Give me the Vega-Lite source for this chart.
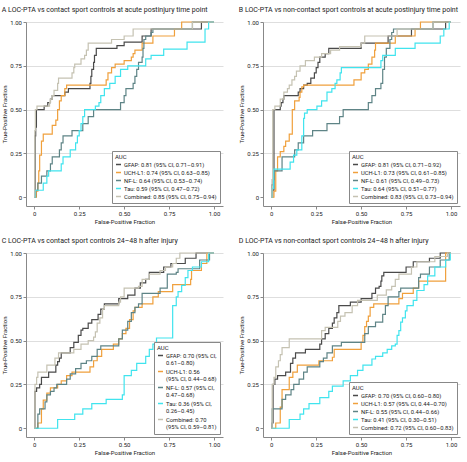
{
  "$schema": "https://vega.github.io/schema/vega-lite/v6.json",
  "padding": {"left": 1, "top": 6, "right": 3, "bottom": 0},
  "background": "white",
  "config": {
    "font": "Roboto",
    "view": {"stroke": null},
    "title": {"fontSize": 7, "fontWeight": "normal", "anchor": "start", "color": "#222", "offset": 6},
    "axis": {"labelFontSize": 6, "titleFontSize": 6, "titleFontWeight": "normal", "labelColor": "#222", "titleColor": "#222", "domainColor": "#888", "tickColor": "#888", "tickSize": 3, "labelPadding": 1.5, "titlePadding": 2, "gridColor": "#dedede"},
    "legend": {"orient": "bottom-right", "offset": 3, "strokeColor": "#888", "padding": 3, "titleFontSize": 6, "titleFontWeight": "normal", "titleColor": "#222", "labelFontSize": 5.8, "labelColor": "#222", "symbolType": "stroke", "symbolStrokeWidth": 1.5, "symbolSize": 25, "rowPadding": 1, "titlePadding": 1, "labelOffset": 2, "fillColor": "white", "labelLimit": 0, "cornerRadius": 0}
  },
  "datasets": {
    "labA": [
      {"s": "GFAP", "o": 1, "auc": "GFAP: 0.81 (95% CI, 0.71–0.91)"},
      {"s": "UCH-L1", "o": 2, "auc": "UCH-L1: 0.74 (95% CI, 0.63–0.85)"},
      {"s": "NF-L", "o": 3, "auc": "NF-L: 0.64 (95% CI, 0.53–0.74)"},
      {"s": "Tau", "o": 4, "auc": "Tau: 0.59 (95% CI, 0.47–0.72)"},
      {"s": "Combined", "o": 5, "auc": "Combined: 0.85 (95% CI, 0.75–0.94)"}
    ],
    "labB": [
      {"s": "GFAP", "o": 1, "auc": "GFAP: 0.81 (95% CI, 0.71–0.92)"},
      {"s": "UCH-L1", "o": 2, "auc": "UCH-L1: 0.73 (95% CI, 0.61–0.85)"},
      {"s": "NF-L", "o": 3, "auc": "NF-L: 0.61 (95% CI, 0.49–0.73)"},
      {"s": "Tau", "o": 4, "auc": "Tau: 0.64 (95% CI, 0.51–0.77)"},
      {"s": "Combined", "o": 5, "auc": "Combined: 0.83 (95% CI, 0.73–0.94)"}
    ],
    "labC": [
      {"s": "GFAP", "o": 1, "auc": "GFAP: 0.70 (95% CI,|0.61–0.80)"},
      {"s": "UCH-L1", "o": 2, "auc": "UCH-L1: 0.56|(95% CI, 0.44–0.68)"},
      {"s": "NF-L", "o": 3, "auc": "NF-L: 0.57 (95% CI,|0.47–0.68)"},
      {"s": "Tau", "o": 4, "auc": "Tau: 0.36 (95% CI,|0.26–0.45)"},
      {"s": "Combined", "o": 5, "auc": "Combined: 0.70|(95% CI, 0.59–0.81)"}
    ],
    "labD": [
      {"s": "GFAP", "o": 1, "auc": "GFAP: 0.70 (95% CI, 0.60–0.80)"},
      {"s": "UCH-L1", "o": 2, "auc": "UCH-L1: 0.57 (95% CI, 0.44–0.70)"},
      {"s": "NF-L", "o": 3, "auc": "NF-L: 0.55 (95% CI, 0.44–0.66)"},
      {"s": "Tau", "o": 4, "auc": "Tau: 0.41 (95% CI, 0.30–0.51)"},
      {"s": "Combined", "o": 5, "auc": "Combined: 0.72 (95% CI, 0.60–0.83)"}
    ],
    "curves": [
      {"p":"A","s":"GFAP","x":0,"y":0},{"p":"A","s":"GFAP","x":0.005,"y":0.35},{"p":"A","s":"GFAP","x":0.008,"y":0.4},{"p":"A","s":"GFAP","x":0.012,"y":0.5},{"p":"A","s":"GFAP","x":0.055,"y":0.52},{"p":"A","s":"GFAP","x":0.075,"y":0.54},{"p":"A","s":"GFAP","x":0.09,"y":0.56},{"p":"A","s":"GFAP","x":0.1,"y":0.58},{"p":"A","s":"GFAP","x":0.17,"y":0.6},{"p":"A","s":"GFAP","x":0.19,"y":0.62},{"p":"A","s":"GFAP","x":0.31,"y":0.65},{"p":"A","s":"GFAP","x":0.315,"y":0.69},{"p":"A","s":"GFAP","x":0.32,"y":0.73},{"p":"A","s":"GFAP","x":0.33,"y":0.77},{"p":"A","s":"GFAP","x":0.335,"y":0.81},{"p":"A","s":"GFAP","x":0.345,"y":0.85},{"p":"A","s":"GFAP","x":0.46,"y":0.865},{"p":"A","s":"GFAP","x":0.5,"y":0.885},{"p":"A","s":"GFAP","x":0.6,"y":0.92},{"p":"A","s":"GFAP","x":0.65,"y":0.96},{"p":"A","s":"GFAP","x":0.93,"y":1},{"p":"A","s":"GFAP","x":1,"y":1},
      {"p":"A","s":"UCH-L1","x":0,"y":0},{"p":"A","s":"UCH-L1","x":0.012,"y":0.035},{"p":"A","s":"UCH-L1","x":0.02,"y":0.08},{"p":"A","s":"UCH-L1","x":0.025,"y":0.15},{"p":"A","s":"UCH-L1","x":0.03,"y":0.24},{"p":"A","s":"UCH-L1","x":0.04,"y":0.32},{"p":"A","s":"UCH-L1","x":0.05,"y":0.36},{"p":"A","s":"UCH-L1","x":0.1,"y":0.41},{"p":"A","s":"UCH-L1","x":0.12,"y":0.44},{"p":"A","s":"UCH-L1","x":0.13,"y":0.5},{"p":"A","s":"UCH-L1","x":0.14,"y":0.55},{"p":"A","s":"UCH-L1","x":0.15,"y":0.58},{"p":"A","s":"UCH-L1","x":0.17,"y":0.62},{"p":"A","s":"UCH-L1","x":0.18,"y":0.64},{"p":"A","s":"UCH-L1","x":0.4,"y":0.67},{"p":"A","s":"UCH-L1","x":0.41,"y":0.71},{"p":"A","s":"UCH-L1","x":0.43,"y":0.74},{"p":"A","s":"UCH-L1","x":0.45,"y":0.76},{"p":"A","s":"UCH-L1","x":0.5,"y":0.78},{"p":"A","s":"UCH-L1","x":0.54,"y":0.8},{"p":"A","s":"UCH-L1","x":0.55,"y":0.82},{"p":"A","s":"UCH-L1","x":0.56,"y":0.84},{"p":"A","s":"UCH-L1","x":0.6,"y":0.88},{"p":"A","s":"UCH-L1","x":0.66,"y":0.92},{"p":"A","s":"UCH-L1","x":0.78,"y":0.96},{"p":"A","s":"UCH-L1","x":0.82,"y":1},{"p":"A","s":"UCH-L1","x":1,"y":1},
      {"p":"A","s":"NF-L","x":0,"y":0},{"p":"A","s":"NF-L","x":0.008,"y":0.04},{"p":"A","s":"NF-L","x":0.02,"y":0.08},{"p":"A","s":"NF-L","x":0.04,"y":0.12},{"p":"A","s":"NF-L","x":0.07,"y":0.15},{"p":"A","s":"NF-L","x":0.09,"y":0.19},{"p":"A","s":"NF-L","x":0.1,"y":0.23},{"p":"A","s":"NF-L","x":0.14,"y":0.27},{"p":"A","s":"NF-L","x":0.15,"y":0.31},{"p":"A","s":"NF-L","x":0.16,"y":0.35},{"p":"A","s":"NF-L","x":0.21,"y":0.38},{"p":"A","s":"NF-L","x":0.27,"y":0.42},{"p":"A","s":"NF-L","x":0.3,"y":0.46},{"p":"A","s":"NF-L","x":0.33,"y":0.5},{"p":"A","s":"NF-L","x":0.48,"y":0.54},{"p":"A","s":"NF-L","x":0.5,"y":0.58},{"p":"A","s":"NF-L","x":0.51,"y":0.62},{"p":"A","s":"NF-L","x":0.55,"y":0.65},{"p":"A","s":"NF-L","x":0.56,"y":0.69},{"p":"A","s":"NF-L","x":0.57,"y":0.73},{"p":"A","s":"NF-L","x":0.58,"y":0.77},{"p":"A","s":"NF-L","x":0.6,"y":0.8},{"p":"A","s":"NF-L","x":0.605,"y":0.85},{"p":"A","s":"NF-L","x":0.61,"y":0.9},{"p":"A","s":"NF-L","x":0.62,"y":0.92},{"p":"A","s":"NF-L","x":0.65,"y":0.94},{"p":"A","s":"NF-L","x":0.66,"y":0.96},{"p":"A","s":"NF-L","x":0.88,"y":1},{"p":"A","s":"NF-L","x":1,"y":1},
      {"p":"A","s":"Tau","x":0,"y":0},{"p":"A","s":"Tau","x":0.005,"y":0.04},{"p":"A","s":"Tau","x":0.05,"y":0.08},{"p":"A","s":"Tau","x":0.07,"y":0.12},{"p":"A","s":"Tau","x":0.08,"y":0.15},{"p":"A","s":"Tau","x":0.15,"y":0.19},{"p":"A","s":"Tau","x":0.16,"y":0.23},{"p":"A","s":"Tau","x":0.2,"y":0.27},{"p":"A","s":"Tau","x":0.23,"y":0.31},{"p":"A","s":"Tau","x":0.24,"y":0.35},{"p":"A","s":"Tau","x":0.25,"y":0.38},{"p":"A","s":"Tau","x":0.26,"y":0.42},{"p":"A","s":"Tau","x":0.27,"y":0.46},{"p":"A","s":"Tau","x":0.28,"y":0.5},{"p":"A","s":"Tau","x":0.34,"y":0.52},{"p":"A","s":"Tau","x":0.36,"y":0.54},{"p":"A","s":"Tau","x":0.37,"y":0.58},{"p":"A","s":"Tau","x":0.39,"y":0.62},{"p":"A","s":"Tau","x":0.42,"y":0.65},{"p":"A","s":"Tau","x":0.45,"y":0.69},{"p":"A","s":"Tau","x":0.48,"y":0.73},{"p":"A","s":"Tau","x":0.52,"y":0.75},{"p":"A","s":"Tau","x":0.62,"y":0.79},{"p":"A","s":"Tau","x":0.65,"y":0.81},{"p":"A","s":"Tau","x":0.72,"y":0.845},{"p":"A","s":"Tau","x":0.85,"y":0.885},{"p":"A","s":"Tau","x":0.95,"y":0.96},{"p":"A","s":"Tau","x":0.97,"y":1},{"p":"A","s":"Tau","x":1,"y":1},
      {"p":"A","s":"Combined","x":0,"y":0},{"p":"A","s":"Combined","x":0.003,"y":0.38},{"p":"A","s":"Combined","x":0.006,"y":0.5},{"p":"A","s":"Combined","x":0.015,"y":0.52},{"p":"A","s":"Combined","x":0.085,"y":0.54},{"p":"A","s":"Combined","x":0.09,"y":0.56},{"p":"A","s":"Combined","x":0.1,"y":0.58},{"p":"A","s":"Combined","x":0.11,"y":0.61},{"p":"A","s":"Combined","x":0.13,"y":0.65},{"p":"A","s":"Combined","x":0.135,"y":0.68},{"p":"A","s":"Combined","x":0.21,"y":0.71},{"p":"A","s":"Combined","x":0.22,"y":0.74},{"p":"A","s":"Combined","x":0.225,"y":0.76},{"p":"A","s":"Combined","x":0.26,"y":0.79},{"p":"A","s":"Combined","x":0.28,"y":0.81},{"p":"A","s":"Combined","x":0.29,"y":0.84},{"p":"A","s":"Combined","x":0.3,"y":0.88},{"p":"A","s":"Combined","x":0.43,"y":0.9},{"p":"A","s":"Combined","x":0.5,"y":0.92},{"p":"A","s":"Combined","x":0.55,"y":0.96},{"p":"A","s":"Combined","x":0.88,"y":1},{"p":"A","s":"Combined","x":1,"y":1},

      {"p":"B","s":"GFAP","x":0,"y":0},{"p":"B","s":"GFAP","x":0.008,"y":0.04},{"p":"B","s":"GFAP","x":0.015,"y":0.5},{"p":"B","s":"GFAP","x":0.05,"y":0.52},{"p":"B","s":"GFAP","x":0.055,"y":0.54},{"p":"B","s":"GFAP","x":0.065,"y":0.56},{"p":"B","s":"GFAP","x":0.07,"y":0.58},{"p":"B","s":"GFAP","x":0.15,"y":0.6},{"p":"B","s":"GFAP","x":0.16,"y":0.62},{"p":"B","s":"GFAP","x":0.18,"y":0.64},{"p":"B","s":"GFAP","x":0.2,"y":0.65},{"p":"B","s":"GFAP","x":0.22,"y":0.68},{"p":"B","s":"GFAP","x":0.24,"y":0.71},{"p":"B","s":"GFAP","x":0.25,"y":0.74},{"p":"B","s":"GFAP","x":0.26,"y":0.77},{"p":"B","s":"GFAP","x":0.27,"y":0.8},{"p":"B","s":"GFAP","x":0.3,"y":0.82},{"p":"B","s":"GFAP","x":0.32,"y":0.85},{"p":"B","s":"GFAP","x":0.5,"y":0.88},{"p":"B","s":"GFAP","x":0.65,"y":0.92},{"p":"B","s":"GFAP","x":0.78,"y":0.96},{"p":"B","s":"GFAP","x":0.97,"y":1},{"p":"B","s":"GFAP","x":1,"y":1},
      {"p":"B","s":"UCH-L1","x":0,"y":0},{"p":"B","s":"UCH-L1","x":0.015,"y":0.035},{"p":"B","s":"UCH-L1","x":0.025,"y":0.15},{"p":"B","s":"UCH-L1","x":0.035,"y":0.23},{"p":"B","s":"UCH-L1","x":0.05,"y":0.26},{"p":"B","s":"UCH-L1","x":0.07,"y":0.29},{"p":"B","s":"UCH-L1","x":0.08,"y":0.32},{"p":"B","s":"UCH-L1","x":0.1,"y":0.36},{"p":"B","s":"UCH-L1","x":0.117,"y":0.5},{"p":"B","s":"UCH-L1","x":0.13,"y":0.55},{"p":"B","s":"UCH-L1","x":0.155,"y":0.57},{"p":"B","s":"UCH-L1","x":0.16,"y":0.6},{"p":"B","s":"UCH-L1","x":0.17,"y":0.63},{"p":"B","s":"UCH-L1","x":0.18,"y":0.64},{"p":"B","s":"UCH-L1","x":0.46,"y":0.67},{"p":"B","s":"UCH-L1","x":0.5,"y":0.71},{"p":"B","s":"UCH-L1","x":0.52,"y":0.73},{"p":"B","s":"UCH-L1","x":0.54,"y":0.76},{"p":"B","s":"UCH-L1","x":0.56,"y":0.8},{"p":"B","s":"UCH-L1","x":0.575,"y":0.84},{"p":"B","s":"UCH-L1","x":0.58,"y":0.88},{"p":"B","s":"UCH-L1","x":0.69,"y":0.92},{"p":"B","s":"UCH-L1","x":0.8,"y":0.96},{"p":"B","s":"UCH-L1","x":0.83,"y":1},{"p":"B","s":"UCH-L1","x":1,"y":1},
      {"p":"B","s":"NF-L","x":0,"y":0},{"p":"B","s":"NF-L","x":0.003,"y":0.07},{"p":"B","s":"NF-L","x":0.01,"y":0.1},{"p":"B","s":"NF-L","x":0.015,"y":0.15},{"p":"B","s":"NF-L","x":0.06,"y":0.23},{"p":"B","s":"NF-L","x":0.13,"y":0.27},{"p":"B","s":"NF-L","x":0.15,"y":0.31},{"p":"B","s":"NF-L","x":0.18,"y":0.35},{"p":"B","s":"NF-L","x":0.23,"y":0.38},{"p":"B","s":"NF-L","x":0.31,"y":0.42},{"p":"B","s":"NF-L","x":0.38,"y":0.46},{"p":"B","s":"NF-L","x":0.4,"y":0.5},{"p":"B","s":"NF-L","x":0.54,"y":0.54},{"p":"B","s":"NF-L","x":0.56,"y":0.58},{"p":"B","s":"NF-L","x":0.58,"y":0.62},{"p":"B","s":"NF-L","x":0.61,"y":0.65},{"p":"B","s":"NF-L","x":0.62,"y":0.73},{"p":"B","s":"NF-L","x":0.63,"y":0.8},{"p":"B","s":"NF-L","x":0.64,"y":0.85},{"p":"B","s":"NF-L","x":0.66,"y":0.9},{"p":"B","s":"NF-L","x":0.67,"y":0.94},{"p":"B","s":"NF-L","x":0.68,"y":0.96},{"p":"B","s":"NF-L","x":0.9,"y":1},{"p":"B","s":"NF-L","x":1,"y":1},
      {"p":"B","s":"Tau","x":0,"y":0},{"p":"B","s":"Tau","x":0.005,"y":0.05},{"p":"B","s":"Tau","x":0.013,"y":0.16},{"p":"B","s":"Tau","x":0.105,"y":0.2},{"p":"B","s":"Tau","x":0.124,"y":0.24},{"p":"B","s":"Tau","x":0.142,"y":0.27},{"p":"B","s":"Tau","x":0.17,"y":0.35},{"p":"B","s":"Tau","x":0.18,"y":0.45},{"p":"B","s":"Tau","x":0.185,"y":0.48},{"p":"B","s":"Tau","x":0.2,"y":0.5},{"p":"B","s":"Tau","x":0.254,"y":0.52},{"p":"B","s":"Tau","x":0.28,"y":0.55},{"p":"B","s":"Tau","x":0.31,"y":0.6},{"p":"B","s":"Tau","x":0.337,"y":0.62},{"p":"B","s":"Tau","x":0.355,"y":0.65},{"p":"B","s":"Tau","x":0.365,"y":0.67},{"p":"B","s":"Tau","x":0.383,"y":0.71},{"p":"B","s":"Tau","x":0.39,"y":0.74},{"p":"B","s":"Tau","x":0.61,"y":0.78},{"p":"B","s":"Tau","x":0.62,"y":0.81},{"p":"B","s":"Tau","x":0.69,"y":0.85},{"p":"B","s":"Tau","x":0.8,"y":0.88},{"p":"B","s":"Tau","x":0.94,"y":0.92},{"p":"B","s":"Tau","x":0.96,"y":0.96},{"p":"B","s":"Tau","x":0.99,"y":1},{"p":"B","s":"Tau","x":1,"y":1},
      {"p":"B","s":"Combined","x":0,"y":0},{"p":"B","s":"Combined","x":0.004,"y":0.1},{"p":"B","s":"Combined","x":0.008,"y":0.5},{"p":"B","s":"Combined","x":0.02,"y":0.52},{"p":"B","s":"Combined","x":0.05,"y":0.56},{"p":"B","s":"Combined","x":0.07,"y":0.6},{"p":"B","s":"Combined","x":0.09,"y":0.62},{"p":"B","s":"Combined","x":0.1,"y":0.64},{"p":"B","s":"Combined","x":0.115,"y":0.67},{"p":"B","s":"Combined","x":0.13,"y":0.69},{"p":"B","s":"Combined","x":0.14,"y":0.72},{"p":"B","s":"Combined","x":0.16,"y":0.75},{"p":"B","s":"Combined","x":0.19,"y":0.78},{"p":"B","s":"Combined","x":0.24,"y":0.8},{"p":"B","s":"Combined","x":0.28,"y":0.82},{"p":"B","s":"Combined","x":0.33,"y":0.84},{"p":"B","s":"Combined","x":0.38,"y":0.86},{"p":"B","s":"Combined","x":0.5,"y":0.88},{"p":"B","s":"Combined","x":0.52,"y":0.92},{"p":"B","s":"Combined","x":0.7,"y":0.96},{"p":"B","s":"Combined","x":0.9,"y":1},{"p":"B","s":"Combined","x":1,"y":1},

      {"p":"C","s":"GFAP","x":0,"y":0},{"p":"C","s":"GFAP","x":0.004,"y":0.21},{"p":"C","s":"GFAP","x":0.013,"y":0.23},{"p":"C","s":"GFAP","x":0.03,"y":0.25},{"p":"C","s":"GFAP","x":0.04,"y":0.29},{"p":"C","s":"GFAP","x":0.08,"y":0.32},{"p":"C","s":"GFAP","x":0.12,"y":0.36},{"p":"C","s":"GFAP","x":0.13,"y":0.38},{"p":"C","s":"GFAP","x":0.14,"y":0.4},{"p":"C","s":"GFAP","x":0.15,"y":0.43},{"p":"C","s":"GFAP","x":0.2,"y":0.46},{"p":"C","s":"GFAP","x":0.22,"y":0.49},{"p":"C","s":"GFAP","x":0.245,"y":0.53},{"p":"C","s":"GFAP","x":0.26,"y":0.56},{"p":"C","s":"GFAP","x":0.27,"y":0.57},{"p":"C","s":"GFAP","x":0.3,"y":0.6},{"p":"C","s":"GFAP","x":0.32,"y":0.62},{"p":"C","s":"GFAP","x":0.355,"y":0.65},{"p":"C","s":"GFAP","x":0.37,"y":0.68},{"p":"C","s":"GFAP","x":0.39,"y":0.71},{"p":"C","s":"GFAP","x":0.47,"y":0.74},{"p":"C","s":"GFAP","x":0.52,"y":0.76},{"p":"C","s":"GFAP","x":0.56,"y":0.8},{"p":"C","s":"GFAP","x":0.59,"y":0.83},{"p":"C","s":"GFAP","x":0.62,"y":0.85},{"p":"C","s":"GFAP","x":0.64,"y":0.89},{"p":"C","s":"GFAP","x":0.72,"y":0.92},{"p":"C","s":"GFAP","x":0.76,"y":0.94},{"p":"C","s":"GFAP","x":0.84,"y":0.97},{"p":"C","s":"GFAP","x":0.9,"y":1},{"p":"C","s":"GFAP","x":1,"y":1},
      {"p":"C","s":"UCH-L1","x":0,"y":0},{"p":"C","s":"UCH-L1","x":0.02,"y":0.03},{"p":"C","s":"UCH-L1","x":0.04,"y":0.11},{"p":"C","s":"UCH-L1","x":0.05,"y":0.16},{"p":"C","s":"UCH-L1","x":0.07,"y":0.2},{"p":"C","s":"UCH-L1","x":0.09,"y":0.23},{"p":"C","s":"UCH-L1","x":0.13,"y":0.25},{"p":"C","s":"UCH-L1","x":0.15,"y":0.27},{"p":"C","s":"UCH-L1","x":0.18,"y":0.3},{"p":"C","s":"UCH-L1","x":0.21,"y":0.32},{"p":"C","s":"UCH-L1","x":0.31,"y":0.35},{"p":"C","s":"UCH-L1","x":0.33,"y":0.385},{"p":"C","s":"UCH-L1","x":0.35,"y":0.41},{"p":"C","s":"UCH-L1","x":0.375,"y":0.45},{"p":"C","s":"UCH-L1","x":0.44,"y":0.48},{"p":"C","s":"UCH-L1","x":0.47,"y":0.51},{"p":"C","s":"UCH-L1","x":0.49,"y":0.54},{"p":"C","s":"UCH-L1","x":0.51,"y":0.57},{"p":"C","s":"UCH-L1","x":0.53,"y":0.62},{"p":"C","s":"UCH-L1","x":0.55,"y":0.67},{"p":"C","s":"UCH-L1","x":0.56,"y":0.69},{"p":"C","s":"UCH-L1","x":0.6,"y":0.71},{"p":"C","s":"UCH-L1","x":0.66,"y":0.75},{"p":"C","s":"UCH-L1","x":0.69,"y":0.78},{"p":"C","s":"UCH-L1","x":0.77,"y":0.82},{"p":"C","s":"UCH-L1","x":0.87,"y":0.85},{"p":"C","s":"UCH-L1","x":0.875,"y":0.9},{"p":"C","s":"UCH-L1","x":0.93,"y":0.94},{"p":"C","s":"UCH-L1","x":0.96,"y":1},{"p":"C","s":"UCH-L1","x":1,"y":1},
      {"p":"C","s":"NF-L","x":0,"y":0},{"p":"C","s":"NF-L","x":0.02,"y":0.08},{"p":"C","s":"NF-L","x":0.03,"y":0.11},{"p":"C","s":"NF-L","x":0.06,"y":0.15},{"p":"C","s":"NF-L","x":0.07,"y":0.19},{"p":"C","s":"NF-L","x":0.09,"y":0.21},{"p":"C","s":"NF-L","x":0.11,"y":0.23},{"p":"C","s":"NF-L","x":0.125,"y":0.25},{"p":"C","s":"NF-L","x":0.18,"y":0.28},{"p":"C","s":"NF-L","x":0.2,"y":0.31},{"p":"C","s":"NF-L","x":0.23,"y":0.34},{"p":"C","s":"NF-L","x":0.26,"y":0.37},{"p":"C","s":"NF-L","x":0.29,"y":0.385},{"p":"C","s":"NF-L","x":0.32,"y":0.41},{"p":"C","s":"NF-L","x":0.35,"y":0.45},{"p":"C","s":"NF-L","x":0.37,"y":0.47},{"p":"C","s":"NF-L","x":0.47,"y":0.51},{"p":"C","s":"NF-L","x":0.49,"y":0.56},{"p":"C","s":"NF-L","x":0.52,"y":0.61},{"p":"C","s":"NF-L","x":0.54,"y":0.66},{"p":"C","s":"NF-L","x":0.56,"y":0.69},{"p":"C","s":"NF-L","x":0.58,"y":0.71},{"p":"C","s":"NF-L","x":0.6,"y":0.77},{"p":"C","s":"NF-L","x":0.7,"y":0.8},{"p":"C","s":"NF-L","x":0.74,"y":0.88},{"p":"C","s":"NF-L","x":0.79,"y":0.89},{"p":"C","s":"NF-L","x":0.8,"y":0.91},{"p":"C","s":"NF-L","x":0.92,"y":0.96},{"p":"C","s":"NF-L","x":0.975,"y":1},{"p":"C","s":"NF-L","x":1,"y":1},
      {"p":"C","s":"Tau","x":0,"y":0},{"p":"C","s":"Tau","x":0.13,"y":0.05},{"p":"C","s":"Tau","x":0.225,"y":0.08},{"p":"C","s":"Tau","x":0.27,"y":0.11},{"p":"C","s":"Tau","x":0.32,"y":0.14},{"p":"C","s":"Tau","x":0.4,"y":0.165},{"p":"C","s":"Tau","x":0.49,"y":0.19},{"p":"C","s":"Tau","x":0.5,"y":0.3},{"p":"C","s":"Tau","x":0.54,"y":0.33},{"p":"C","s":"Tau","x":0.57,"y":0.37},{"p":"C","s":"Tau","x":0.62,"y":0.41},{"p":"C","s":"Tau","x":0.64,"y":0.45},{"p":"C","s":"Tau","x":0.66,"y":0.48},{"p":"C","s":"Tau","x":0.68,"y":0.515},{"p":"C","s":"Tau","x":0.77,"y":0.7},{"p":"C","s":"Tau","x":0.79,"y":0.75},{"p":"C","s":"Tau","x":0.8,"y":0.78},{"p":"C","s":"Tau","x":0.82,"y":0.815},{"p":"C","s":"Tau","x":0.84,"y":0.86},{"p":"C","s":"Tau","x":0.855,"y":0.9},{"p":"C","s":"Tau","x":0.88,"y":0.92},{"p":"C","s":"Tau","x":0.93,"y":0.95},{"p":"C","s":"Tau","x":0.97,"y":1},{"p":"C","s":"Tau","x":1,"y":1},
      {"p":"C","s":"Combined","x":0,"y":0},{"p":"C","s":"Combined","x":0.004,"y":0.25},{"p":"C","s":"Combined","x":0.013,"y":0.29},{"p":"C","s":"Combined","x":0.02,"y":0.32},{"p":"C","s":"Combined","x":0.07,"y":0.36},{"p":"C","s":"Combined","x":0.115,"y":0.4},{"p":"C","s":"Combined","x":0.135,"y":0.43},{"p":"C","s":"Combined","x":0.22,"y":0.45},{"p":"C","s":"Combined","x":0.26,"y":0.48},{"p":"C","s":"Combined","x":0.3,"y":0.5},{"p":"C","s":"Combined","x":0.33,"y":0.52},{"p":"C","s":"Combined","x":0.34,"y":0.55},{"p":"C","s":"Combined","x":0.35,"y":0.6},{"p":"C","s":"Combined","x":0.365,"y":0.63},{"p":"C","s":"Combined","x":0.38,"y":0.68},{"p":"C","s":"Combined","x":0.39,"y":0.7},{"p":"C","s":"Combined","x":0.47,"y":0.72},{"p":"C","s":"Combined","x":0.48,"y":0.75},{"p":"C","s":"Combined","x":0.5,"y":0.8},{"p":"C","s":"Combined","x":0.58,"y":0.81},{"p":"C","s":"Combined","x":0.6,"y":0.85},{"p":"C","s":"Combined","x":0.64,"y":0.88},{"p":"C","s":"Combined","x":0.7,"y":0.9},{"p":"C","s":"Combined","x":0.73,"y":0.92},{"p":"C","s":"Combined","x":0.77,"y":0.94},{"p":"C","s":"Combined","x":0.79,"y":0.97},{"p":"C","s":"Combined","x":0.81,"y":1},{"p":"C","s":"Combined","x":1,"y":1},

      {"p":"D","s":"GFAP","x":0,"y":0},{"p":"D","s":"GFAP","x":0.005,"y":0.03},{"p":"D","s":"GFAP","x":0.01,"y":0.25},{"p":"D","s":"GFAP","x":0.02,"y":0.28},{"p":"D","s":"GFAP","x":0.035,"y":0.3},{"p":"D","s":"GFAP","x":0.08,"y":0.32},{"p":"D","s":"GFAP","x":0.107,"y":0.37},{"p":"D","s":"GFAP","x":0.12,"y":0.4},{"p":"D","s":"GFAP","x":0.135,"y":0.43},{"p":"D","s":"GFAP","x":0.19,"y":0.45},{"p":"D","s":"GFAP","x":0.27,"y":0.48},{"p":"D","s":"GFAP","x":0.28,"y":0.51},{"p":"D","s":"GFAP","x":0.3,"y":0.54},{"p":"D","s":"GFAP","x":0.32,"y":0.57},{"p":"D","s":"GFAP","x":0.34,"y":0.6},{"p":"D","s":"GFAP","x":0.35,"y":0.63},{"p":"D","s":"GFAP","x":0.365,"y":0.66},{"p":"D","s":"GFAP","x":0.376,"y":0.7},{"p":"D","s":"GFAP","x":0.44,"y":0.72},{"p":"D","s":"GFAP","x":0.5,"y":0.74},{"p":"D","s":"GFAP","x":0.56,"y":0.77},{"p":"D","s":"GFAP","x":0.58,"y":0.8},{"p":"D","s":"GFAP","x":0.6,"y":0.81},{"p":"D","s":"GFAP","x":0.61,"y":0.84},{"p":"D","s":"GFAP","x":0.615,"y":0.87},{"p":"D","s":"GFAP","x":0.626,"y":0.89},{"p":"D","s":"GFAP","x":0.75,"y":0.92},{"p":"D","s":"GFAP","x":0.79,"y":0.95},{"p":"D","s":"GFAP","x":0.88,"y":0.97},{"p":"D","s":"GFAP","x":0.94,"y":1},{"p":"D","s":"GFAP","x":1,"y":1},
      {"p":"D","s":"UCH-L1","x":0,"y":0},{"p":"D","s":"UCH-L1","x":0.025,"y":0.03},{"p":"D","s":"UCH-L1","x":0.05,"y":0.12},{"p":"D","s":"UCH-L1","x":0.06,"y":0.22},{"p":"D","s":"UCH-L1","x":0.1,"y":0.29},{"p":"D","s":"UCH-L1","x":0.12,"y":0.32},{"p":"D","s":"UCH-L1","x":0.145,"y":0.36},{"p":"D","s":"UCH-L1","x":0.265,"y":0.385},{"p":"D","s":"UCH-L1","x":0.34,"y":0.405},{"p":"D","s":"UCH-L1","x":0.35,"y":0.45},{"p":"D","s":"UCH-L1","x":0.5,"y":0.49},{"p":"D","s":"UCH-L1","x":0.51,"y":0.53},{"p":"D","s":"UCH-L1","x":0.52,"y":0.58},{"p":"D","s":"UCH-L1","x":0.53,"y":0.61},{"p":"D","s":"UCH-L1","x":0.54,"y":0.64},{"p":"D","s":"UCH-L1","x":0.55,"y":0.69},{"p":"D","s":"UCH-L1","x":0.57,"y":0.71},{"p":"D","s":"UCH-L1","x":0.71,"y":0.74},{"p":"D","s":"UCH-L1","x":0.73,"y":0.77},{"p":"D","s":"UCH-L1","x":0.79,"y":0.8},{"p":"D","s":"UCH-L1","x":0.82,"y":0.84},{"p":"D","s":"UCH-L1","x":0.97,"y":1},{"p":"D","s":"UCH-L1","x":1,"y":1},
      {"p":"D","s":"NF-L","x":0,"y":0},{"p":"D","s":"NF-L","x":0.005,"y":0.11},{"p":"D","s":"NF-L","x":0.06,"y":0.165},{"p":"D","s":"NF-L","x":0.08,"y":0.19},{"p":"D","s":"NF-L","x":0.11,"y":0.22},{"p":"D","s":"NF-L","x":0.125,"y":0.25},{"p":"D","s":"NF-L","x":0.155,"y":0.28},{"p":"D","s":"NF-L","x":0.18,"y":0.32},{"p":"D","s":"NF-L","x":0.2,"y":0.35},{"p":"D","s":"NF-L","x":0.27,"y":0.38},{"p":"D","s":"NF-L","x":0.29,"y":0.4},{"p":"D","s":"NF-L","x":0.31,"y":0.43},{"p":"D","s":"NF-L","x":0.34,"y":0.47},{"p":"D","s":"NF-L","x":0.39,"y":0.49},{"p":"D","s":"NF-L","x":0.52,"y":0.54},{"p":"D","s":"NF-L","x":0.54,"y":0.58},{"p":"D","s":"NF-L","x":0.58,"y":0.605},{"p":"D","s":"NF-L","x":0.62,"y":0.65},{"p":"D","s":"NF-L","x":0.635,"y":0.7},{"p":"D","s":"NF-L","x":0.65,"y":0.75},{"p":"D","s":"NF-L","x":0.71,"y":0.78},{"p":"D","s":"NF-L","x":0.72,"y":0.8},{"p":"D","s":"NF-L","x":0.82,"y":0.86},{"p":"D","s":"NF-L","x":0.83,"y":0.88},{"p":"D","s":"NF-L","x":0.88,"y":0.92},{"p":"D","s":"NF-L","x":0.94,"y":0.96},{"p":"D","s":"NF-L","x":0.99,"y":1},{"p":"D","s":"NF-L","x":1,"y":1},
      {"p":"D","s":"Tau","x":0,"y":0},{"p":"D","s":"Tau","x":0.1,"y":0.05},{"p":"D","s":"Tau","x":0.16,"y":0.08},{"p":"D","s":"Tau","x":0.18,"y":0.11},{"p":"D","s":"Tau","x":0.21,"y":0.14},{"p":"D","s":"Tau","x":0.27,"y":0.175},{"p":"D","s":"Tau","x":0.32,"y":0.21},{"p":"D","s":"Tau","x":0.34,"y":0.24},{"p":"D","s":"Tau","x":0.4,"y":0.27},{"p":"D","s":"Tau","x":0.44,"y":0.3},{"p":"D","s":"Tau","x":0.48,"y":0.33},{"p":"D","s":"Tau","x":0.51,"y":0.36},{"p":"D","s":"Tau","x":0.56,"y":0.395},{"p":"D","s":"Tau","x":0.58,"y":0.41},{"p":"D","s":"Tau","x":0.62,"y":0.43},{"p":"D","s":"Tau","x":0.645,"y":0.45},{"p":"D","s":"Tau","x":0.67,"y":0.47},{"p":"D","s":"Tau","x":0.69,"y":0.48},{"p":"D","s":"Tau","x":0.7,"y":0.53},{"p":"D","s":"Tau","x":0.71,"y":0.557},{"p":"D","s":"Tau","x":0.72,"y":0.605},{"p":"D","s":"Tau","x":0.73,"y":0.63},{"p":"D","s":"Tau","x":0.746,"y":0.67},{"p":"D","s":"Tau","x":0.755,"y":0.7},{"p":"D","s":"Tau","x":0.79,"y":0.73},{"p":"D","s":"Tau","x":0.81,"y":0.786},{"p":"D","s":"Tau","x":0.85,"y":0.82},{"p":"D","s":"Tau","x":0.87,"y":0.87},{"p":"D","s":"Tau","x":0.91,"y":0.92},{"p":"D","s":"Tau","x":0.97,"y":0.96},{"p":"D","s":"Tau","x":0.996,"y":1},{"p":"D","s":"Tau","x":1,"y":1},
      {"p":"D","s":"Combined","x":0,"y":0},{"p":"D","s":"Combined","x":0.005,"y":0.25},{"p":"D","s":"Combined","x":0.015,"y":0.29},{"p":"D","s":"Combined","x":0.025,"y":0.35},{"p":"D","s":"Combined","x":0.04,"y":0.385},{"p":"D","s":"Combined","x":0.05,"y":0.42},{"p":"D","s":"Combined","x":0.06,"y":0.46},{"p":"D","s":"Combined","x":0.1,"y":0.51},{"p":"D","s":"Combined","x":0.28,"y":0.557},{"p":"D","s":"Combined","x":0.3,"y":0.576},{"p":"D","s":"Combined","x":0.37,"y":0.61},{"p":"D","s":"Combined","x":0.385,"y":0.64},{"p":"D","s":"Combined","x":0.41,"y":0.66},{"p":"D","s":"Combined","x":0.45,"y":0.7},{"p":"D","s":"Combined","x":0.48,"y":0.73},{"p":"D","s":"Combined","x":0.59,"y":0.76},{"p":"D","s":"Combined","x":0.64,"y":0.79},{"p":"D","s":"Combined","x":0.67,"y":0.81},{"p":"D","s":"Combined","x":0.69,"y":0.85},{"p":"D","s":"Combined","x":0.71,"y":0.88},{"p":"D","s":"Combined","x":0.78,"y":0.92},{"p":"D","s":"Combined","x":0.81,"y":0.95},{"p":"D","s":"Combined","x":0.91,"y":0.98},{"p":"D","s":"Combined","x":0.98,"y":1},{"p":"D","s":"Combined","x":1,"y":1}
    ]
  },
  "spacing": 12,
  "resolve": {"scale": {"color": "independent"}, "legend": {"color": "independent"}},
  "vconcat": [
    {
      "spacing": 15,
      "resolve": {"scale": {"color": "independent"}, "legend": {"color": "independent"}},
      "hconcat": [
        {
          "width": 197, "height": 184,
          "title": {"text": "A   LOC-PTA vs contact sport controls at acute postinjury time point"},
          "data": {"name": "curves"},
          "transform": [{"filter": "datum.p == 'A'"}, {"lookup": "s", "from": {"data": {"name": "labA"}, "key": "s", "fields": ["auc", "o"]}}],
          "mark": {"type": "line", "interpolate": "step-after", "strokeWidth": 1.2},
          "encoding": {
            "x": {"field": "x", "type": "quantitative", "scale": {"domain": [-0.046, 1.05], "nice": false, "zero": false}, "axis": {"title": "False-Positive Fraction", "values": [0, 0.25, 0.5, 0.75, 1], "grid": false, "labelExpr": "datum.value == 0 ? '0' : format(datum.value, '.2f')"}},
            "y": {"field": "y", "type": "quantitative", "scale": {"domain": [-0.05, 1], "nice": false, "zero": false}, "axis": {"title": "True-Positive Fraction", "values": [0, 0.25, 0.5, 0.75, 1], "grid": true, "gridOpacity": {"condition": {"test": "datum.value == 0", "value": 0}, "value": 1}, "labelExpr": "datum.value == 0 ? '0' : format(datum.value, '.2f')"}},
            "color": {"field": "auc", "type": "nominal", "sort": {"field": "o", "op": "min"}, "scale": {"range": ["#4a4a4a", "#f0a03c", "#5e8486", "#40e4ee", "#c5c2b2"]}, "legend": {"title": "AUC"}},
            "order": {"value": null}
          }
        },
        {
          "width": 197, "height": 184,
          "title": {"text": "B   LOC-PTA vs non-contact sport controls at acute postinjury time point"},
          "data": {"name": "curves"},
          "transform": [{"filter": "datum.p == 'B'"}, {"lookup": "s", "from": {"data": {"name": "labB"}, "key": "s", "fields": ["auc", "o"]}}],
          "mark": {"type": "line", "interpolate": "step-after", "strokeWidth": 1.2},
          "encoding": {
            "x": {"field": "x", "type": "quantitative", "scale": {"domain": [-0.046, 1.05], "nice": false, "zero": false}, "axis": {"title": "False-Positive Fraction", "values": [0, 0.25, 0.5, 0.75, 1], "grid": false, "labelExpr": "datum.value == 0 ? '0' : format(datum.value, '.2f')"}},
            "y": {"field": "y", "type": "quantitative", "scale": {"domain": [-0.05, 1], "nice": false, "zero": false}, "axis": {"title": "True-Positive Fraction", "values": [0, 0.25, 0.5, 0.75, 1], "grid": true, "gridOpacity": {"condition": {"test": "datum.value == 0", "value": 0}, "value": 1}, "labelExpr": "datum.value == 0 ? '0' : format(datum.value, '.2f')"}},
            "color": {"field": "auc", "type": "nominal", "sort": {"field": "o", "op": "min"}, "scale": {"range": ["#4a4a4a", "#f0a03c", "#5e8486", "#40e4ee", "#c5c2b2"]}, "legend": {"title": "AUC"}},
            "order": {"value": null}
          }
        }
      ]
    },
    {
      "spacing": 15,
      "resolve": {"scale": {"color": "independent"}, "legend": {"color": "independent"}},
      "hconcat": [
        {
          "width": 197, "height": 184,
          "title": {"text": "C   LOC-PTA vs contact sport controls 24–48 h after injury"},
          "data": {"name": "curves"},
          "transform": [{"filter": "datum.p == 'C'"}, {"lookup": "s", "from": {"data": {"name": "labC"}, "key": "s", "fields": ["auc", "o"]}}],
          "mark": {"type": "line", "interpolate": "step-after", "strokeWidth": 1.2},
          "encoding": {
            "x": {"field": "x", "type": "quantitative", "scale": {"domain": [-0.046, 1.05], "nice": false, "zero": false}, "axis": {"title": "False-Positive Fraction", "values": [0, 0.25, 0.5, 0.75, 1], "grid": false, "labelExpr": "datum.value == 0 ? '0' : format(datum.value, '.2f')"}},
            "y": {"field": "y", "type": "quantitative", "scale": {"domain": [-0.05, 1], "nice": false, "zero": false}, "axis": {"title": "True-Positive Fraction", "values": [0, 0.25, 0.5, 0.75, 1], "grid": true, "gridOpacity": {"condition": {"test": "datum.value == 0", "value": 0}, "value": 1}, "labelExpr": "datum.value == 0 ? '0' : format(datum.value, '.2f')"}},
            "color": {"field": "auc", "type": "nominal", "sort": {"field": "o", "op": "min"}, "scale": {"range": ["#4a4a4a", "#f0a03c", "#5e8486", "#40e4ee", "#c5c2b2"]}, "legend": {"title": "AUC", "labelExpr": "split(datum.label, '|')"}},
            "order": {"value": null}
          }
        },
        {
          "width": 197, "height": 184,
          "title": {"text": "D   LOC-PTA vs non-contact sport controls 24–48 h after injury"},
          "data": {"name": "curves"},
          "transform": [{"filter": "datum.p == 'D'"}, {"lookup": "s", "from": {"data": {"name": "labD"}, "key": "s", "fields": ["auc", "o"]}}],
          "mark": {"type": "line", "interpolate": "step-after", "strokeWidth": 1.2},
          "encoding": {
            "x": {"field": "x", "type": "quantitative", "scale": {"domain": [-0.046, 1.05], "nice": false, "zero": false}, "axis": {"title": "False-Positive Fraction", "values": [0, 0.25, 0.5, 0.75, 1], "grid": false, "labelExpr": "datum.value == 0 ? '0' : format(datum.value, '.2f')"}},
            "y": {"field": "y", "type": "quantitative", "scale": {"domain": [-0.05, 1], "nice": false, "zero": false}, "axis": {"title": "True-Positive Fraction", "values": [0, 0.25, 0.5, 0.75, 1], "grid": true, "gridOpacity": {"condition": {"test": "datum.value == 0", "value": 0}, "value": 1}, "labelExpr": "datum.value == 0 ? '0' : format(datum.value, '.2f')"}},
            "color": {"field": "auc", "type": "nominal", "sort": {"field": "o", "op": "min"}, "scale": {"range": ["#4a4a4a", "#f0a03c", "#5e8486", "#40e4ee", "#c5c2b2"]}, "legend": {"title": "AUC"}},
            "order": {"value": null}
          }
        }
      ]
    }
  ]
}
